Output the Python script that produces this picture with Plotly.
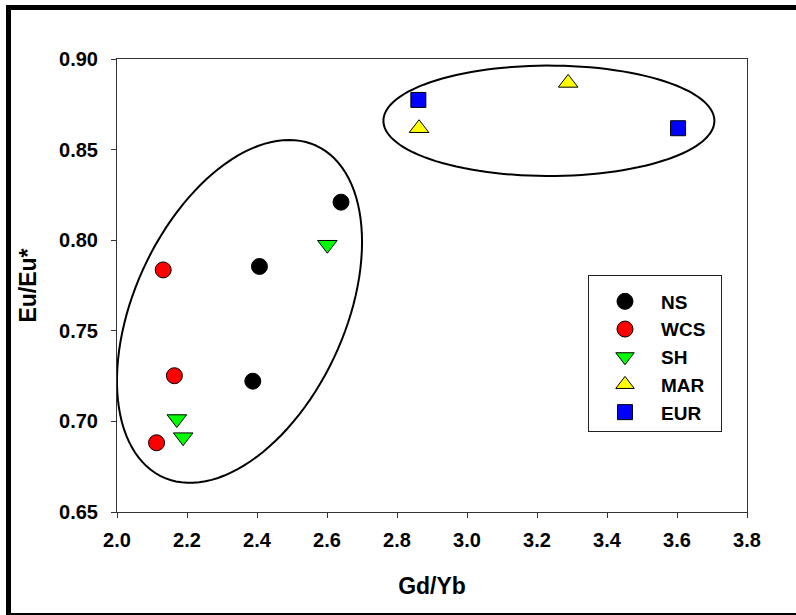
import numpy as np
import plotly.graph_objects as go

# ---- data ----
ns_x = [2.640, 2.407, 2.388]
ns_y = [0.821, 0.7855, 0.7222]
wcs_x = [2.132, 2.164, 2.113]
wcs_y = [0.7836, 0.7252, 0.6882]
sh_x = [2.601, 2.171, 2.189]
sh_y = [0.7975, 0.7013, 0.6913]
mar_x = [2.863, 3.289]
mar_y = [0.8618, 0.8868]
eur_x = [2.861, 3.603]
eur_y = [0.8774, 0.8618]

x_ticks = [2.0, 2.2, 2.4, 2.6, 2.8, 3.0, 3.2, 3.4, 3.6, 3.8]
y_ticks = [0.65, 0.70, 0.75, 0.80, 0.85, 0.90]

W, H = 796, 615
ML, MR, MT, MB = 117, 49, 59, 103
XR = (2.0, 3.8)
YR = (0.65, 0.90)
ppx = (W - ML - MR) / (XR[1] - XR[0])
ppy = (H - MT - MB) / (YR[1] - YR[0])

def ellipse_path(cx, cy, a_px, b_px, phi_deg, n=120):
    phi = np.radians(phi_deg)
    t = np.linspace(0, 2 * np.pi, n)
    dx = a_px * np.cos(t) * np.cos(phi) - b_px * np.sin(t) * np.sin(phi)
    dy = a_px * np.cos(t) * np.sin(phi) + b_px * np.sin(t) * np.cos(phi)
    xs = cx + dx / ppx
    ys = cy - dy / ppy
    p = "M " + " L ".join(f"{x:.5f},{y:.5f}" for x, y in zip(xs, ys)) + " Z"
    return p

PAD = "\u00a0\u00a0"
fig = go.Figure()
mk = dict(line=dict(color="black", width=1))
fig.add_trace(go.Scatter(x=ns_x, y=ns_y, mode="markers", name="NS" + PAD,
                         marker=dict(symbol="circle", size=16, color="black", **mk)))
fig.add_trace(go.Scatter(x=wcs_x, y=wcs_y, mode="markers", name="WCS" + PAD,
                         marker=dict(symbol="circle", size=16, color="#ff0000", **mk)))
fig.add_trace(go.Scatter(x=sh_x, y=sh_y, mode="markers", name="SH" + PAD,
                         marker=dict(symbol="triangle-down", size=17, color="#00ff00", **mk)))
fig.add_trace(go.Scatter(x=mar_x, y=mar_y, mode="markers", name="MAR" + PAD,
                         marker=dict(symbol="triangle-up", size=17, color="#ffff00", **mk)))
fig.add_trace(go.Scatter(x=eur_x, y=eur_y, mode="markers", name="EUR" + PAD,
                         marker=dict(symbol="square", size=15, color="#0000ff", **mk)))

shapes = [
    dict(type="path", xref="x", yref="y",
         path=ellipse_path(2.35, 0.7607, 182.6, 105.2, -65.1),
         line=dict(color="black", width=2)),
    dict(type="path", xref="x", yref="y",
         path=ellipse_path(3.234, 0.8659, 165.5, 55.2, 0.0),
         line=dict(color="black", width=2)),
]

def px2paper_x(px):
    return (px - ML) / (W - ML - MR)

def px2paper_y(py):
    return (H - MB - py) / (H - MT - MB)

# outer frame (thick left/top, thin bottom)
shapes += [
    dict(type="rect", xref="paper", yref="paper",
         x0=px2paper_x(6), x1=px2paper_x(11), y0=px2paper_y(615), y1=px2paper_y(5),
         fillcolor="black", line=dict(width=0)),
    dict(type="rect", xref="paper", yref="paper",
         x0=px2paper_x(6), x1=px2paper_x(796), y0=px2paper_y(10), y1=px2paper_y(5),
         fillcolor="black", line=dict(width=0)),
    dict(type="rect", xref="paper", yref="paper",
         x0=px2paper_x(6), x1=px2paper_x(796), y0=px2paper_y(615), y1=px2paper_y(613),
         fillcolor="black", line=dict(width=0)),
]

font = dict(family="Liberation Sans, Arial, sans-serif", color="black")
fig.update_layout(
    width=W, height=H,
    margin=dict(l=ML, r=MR, t=MT, b=MB),
    paper_bgcolor="white", plot_bgcolor="white",
    font=font,
    shapes=shapes,
    showlegend=True,
    legend=dict(x=px2paper_x(588), y=px2paper_y(275), xanchor="left", yanchor="top",
                bordercolor="#222", borderwidth=1, bgcolor="white",
                font=dict(size=19, family="Liberation Sans, Arial, sans-serif", color="black",
                          weight="bold"),
                title=dict(text=" ", font=dict(size=5)),
                itemwidth=62),
    xaxis=dict(range=list(XR), tickvals=x_ticks, ticktext=[f"{v:.1f}" for v in x_ticks],
               showgrid=False, zeroline=False, showline=True, mirror=True,
               linecolor="#333", linewidth=1, ticks="outside", ticklen=5, tickcolor="#333",
               ticklabelstandoff=5,
               tickfont=dict(size=20, weight="bold"),
               title=dict(text="Gd/Yb", font=dict(size=23, weight="bold"), standoff=27)),
    yaxis=dict(range=list(YR), tickvals=y_ticks, ticktext=[f"{v:.2f}" for v in y_ticks],
               showgrid=False, zeroline=False, showline=True, mirror=True,
               linecolor="#333", linewidth=1, ticks="outside", ticklen=5, tickcolor="#333",
               ticklabelstandoff=9,
               tickfont=dict(size=20, weight="bold"),
               title=dict(text="Eu/Eu*", font=dict(size=23, weight="bold"), standoff=16)),
)

fig.write_html("out.html", post_script="document.body.style.margin='0px';",
               config={"displayModeBar": False})
